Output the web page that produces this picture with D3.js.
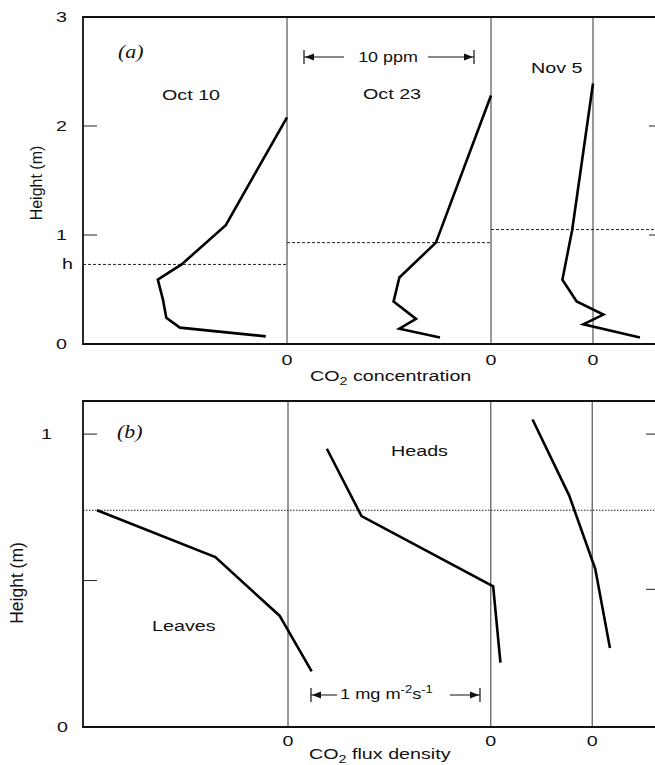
<!DOCTYPE html>
<html>
<head>
<meta charset="utf-8">
<script src="https://cdn.jsdelivr.net/npm/d3@7"></script>
<style>
  html, body { margin: 0; padding: 0; background: #fff; }
  svg text { font-family: "Liberation Sans", Arial, sans-serif; fill: #111; }
</style>
</head>
<body>
<div id="chart"></div>
<script>
// profile names, left to right
const dates = ["Oct 10", "Oct 23", "Nov 5"];
// where each profile's zero sits, in ppm (panel a) and mg m-2 s-1 (panel b)
const offsetsPpm = [0, 12, 18];
const offsetsFlux = [0, 1.2, 1.8];

// (a) CO2 concentration profiles, ppm relative to the top value
const concHeights = [
  [2.08, 1.09, 0.73, 0.59, 0.41, 0.24, 0.15, 0.07],
  [2.28, 0.93, 0.61, 0.39, 0.23, 0.14, 0.06],
  [2.39, 1.05, 0.59, 0.39, 0.27, 0.18, 0.06]
];
const concValues = [
  [0, -3.6, -6.2, -7.6, -7.3, -7.1, -6.3, -1.25],
  [0, -3.24, -5.39, -5.73, -4.41, -5.39, -3.0],
  [0, -1.22, -1.8, -0.96, 0.61, -0.57, 2.76]
];
const canopyHeights = [0.73, 0.93, 1.05];

// (b) CO2 flux density profiles, mg m-2 s-1
const fluxHeights = [
  [0.74, 0.58, 0.38, 0.19],
  [0.95, 0.72, 0.48, 0.22],
  [1.05, 0.79, 0.54, 0.27]
];
const fluxValues = [
  [-1.13, -0.43, -0.05, 0.14],
  [-0.97, -0.765, 0.014, 0.057],
  [-0.353, -0.136, 0.018, 0.105]
];
const fluxRefHeight = 0.74;
const fluxLabels = ["Leaves", "Heads"];

const heightTicksA = [0, 1, 2, 3];
const heightTicksB = [0, 1];
const minorTicksB = [0.5];
const rightTicksA = [1, 2];
const rightTicksB = [0.47, 1];

const W = 655, H = 765;
const SX = 1.36; // the scan is stretched sideways

const svg = d3.select("#chart").append("svg")
  .attr("width", W)
  .attr("height", H);

const left = 83, right = 657;

function label(x, y, str, size, anchor, sx) {
  return svg.append("text")
    .attr("transform", `translate(${x},${y}) scale(${sx || SX},1)`)
    .attr("text-anchor", anchor || "start")
    .style("font-size", size + "px")
    .text(str);
}

function co2Label(x, y, rest) {
  let t = svg.append("text")
    .attr("transform", `translate(${x},${y}) scale(${SX},1)`)
    .style("font-size", "14.5px");
  t.append("tspan").text("CO");
  t.append("tspan").attr("dy", 4).style("font-size", "10.5px").text("2");
  t.append("tspan").attr("dy", -4).text(" " + rest);
}

function arrowHead(x, y, dir) {
  svg.append("path")
    .attr("d", `M${x},${y} l${-dir * 9},-3.5 l0,7 z`)
    .attr("fill", "#111");
}

let line = d3.line()
  .x(d => d.x)
  .y(d => d.y);

// ---------- panel (a) ----------
let xA = d3.scaleLinear().domain([-12, 0]).range([left, 287]);
let yA = d3.scaleLinear().domain([0, 3]).range([344, 17]);

// zero lines
offsetsPpm.forEach(o => {
  svg.append("line")
    .attr("x1", xA(o)).attr("x2", xA(o))
    .attr("y1", yA(3)).attr("y2", yA(0))
    .attr("stroke", "#333").attr("stroke-width", 1);
});

// canopy height lines, each in the strip left of its zero line (last one runs to the edge)
canopyHeights.forEach((h, i) => {
  let x1 = i === 0 ? left : xA(offsetsPpm[i - 1]);
  let x2 = i < 2 ? xA(offsetsPpm[i]) : right;
  if (i === 2) x1 = xA(offsetsPpm[1]);
  svg.append("line")
    .attr("x1", x1).attr("x2", x2)
    .attr("y1", yA(h)).attr("y2", yA(h))
    .attr("stroke", "#222").attr("stroke-width", 1)
    .attr("stroke-dasharray", "3,2");
});

// frame
svg.append("path")
  .attr("d", `M${right},${yA(3)} H${left} V${yA(0)} H${right}`)
  .attr("fill", "none").attr("stroke", "#111").attr("stroke-width", 1.8);

heightTicksA.filter(t => t > 0 && t < 3).forEach(t => {
  svg.append("line").attr("x1", left).attr("x2", left + 14)
    .attr("y1", yA(t)).attr("y2", yA(t)).attr("stroke", "#222");
});
rightTicksA.forEach(t => {
  svg.append("line").attr("x1", right - 8).attr("x2", right)
    .attr("y1", yA(t)).attr("y2", yA(t)).attr("stroke", "#222");
});
heightTicksA.forEach(t => label(67, yA(t) + 5, String(t), 14.5, "end"));
label(73, yA(canopyHeights[0]) + 5, "h", 14.5, "end");

svg.append("text")
  .attr("transform", `translate(42,183) rotate(-90)`)
  .attr("text-anchor", "middle")
  .style("font-size", "16px")
  .text("Height (m)");

// profiles
concValues.forEach((vals, i) => {
  let pts = vals.map((v, j) => ({x: xA(offsetsPpm[i] + v), y: yA(concHeights[i][j])}));
  svg.append("path")
    .datum(pts)
    .attr("d", line)
    .attr("fill", "none")
    .attr("stroke", "#000")
    .attr("stroke-width", 2.6)
    .attr("stroke-linejoin", "miter");
});

label(162, 100, dates[0], 14.5);
label(363, 99, dates[1], 14.5);
label(531, 73, dates[2], 14.5);
svg.append("text")
  .attr("transform", `translate(118,58) scale(1.15,1)`)
  .style("font-family", "'Liberation Serif', 'Times New Roman', serif")
  .style("font-size", "19px")
  .style("font-style", "italic")
  .text("(a)");

// 10 ppm scale bar
let barA0 = xA(1), barA1 = xA(11), barAy = 57;
[barA0, barA1].forEach(x => svg.append("line").attr("x1", x).attr("x2", x)
  .attr("y1", barAy - 7).attr("y2", barAy + 7).attr("stroke", "#111").attr("stroke-width", 1.2));
svg.append("line").attr("x1", barA0).attr("x2", 344).attr("y1", barAy).attr("y2", barAy).attr("stroke", "#111");
svg.append("line").attr("x1", 428).attr("x2", barA1).attr("y1", barAy).attr("y2", barAy).attr("stroke", "#111");
arrowHead(barA0 + 1, barAy, -1);
arrowHead(barA1 - 1, barAy, 1);
label(388, 62, "10 ppm", 14, "middle", 1.28);

offsetsPpm.forEach(o => label(xA(o), 365, "0", 14.5, "middle"));
co2Label(310, 381, "concentration");

// ---------- panel (b) ----------
let xB = d3.scaleLinear().domain([-1.2, 0]).range([left + 2.2, 288]);
let yB = d3.scaleLinear().domain([0, 1.113]).range([727, 401]);

offsetsFlux.forEach(o => {
  svg.append("line")
    .attr("x1", xB(o)).attr("x2", xB(o))
    .attr("y1", yB(1.113)).attr("y2", yB(0))
    .attr("stroke", "#333").attr("stroke-width", 1);
});

svg.append("line")
  .attr("x1", left).attr("x2", right)
  .attr("y1", yB(fluxRefHeight)).attr("y2", yB(fluxRefHeight))
  .attr("stroke", "#222").attr("stroke-width", 1)
  .attr("stroke-dasharray", "1.5,1.5");

svg.append("path")
  .attr("d", `M${right},${yB(1.113)} H${left} V${yB(0)} H${right}`)
  .attr("fill", "none").attr("stroke", "#111").attr("stroke-width", 1.8);

heightTicksB.concat(minorTicksB).filter(t => t > 0).forEach(t => {
  svg.append("line").attr("x1", left).attr("x2", left + 14)
    .attr("y1", yB(t)).attr("y2", yB(t)).attr("stroke", "#222");
});
rightTicksB.forEach(t => {
  svg.append("line").attr("x1", right - 11).attr("x2", right)
    .attr("y1", yB(t)).attr("y2", yB(t)).attr("stroke", "#222");
});
heightTicksB.forEach(t => label(t === 1 ? 52 : 68, yB(t) + 5, String(t), 14.5, "end"));

svg.append("text")
  .attr("transform", `translate(23,583) rotate(-90)`)
  .attr("text-anchor", "middle")
  .style("font-size", "17.5px")
  .text("Height (m)");

fluxValues.forEach((vals, i) => {
  let pts = vals.map((v, j) => ({x: xB(offsetsFlux[i] + v), y: yB(fluxHeights[i][j])}));
  svg.append("path")
    .datum(pts)
    .attr("d", line)
    .attr("fill", "none")
    .attr("stroke", "#000")
    .attr("stroke-width", 2.6);
});

label(152, 631, fluxLabels[0], 14.5);
label(391, 456, fluxLabels[1], 14.5);
svg.append("text")
  .attr("transform", `translate(117,438) scale(1.15,1)`)
  .style("font-family", "'Liberation Serif', 'Times New Roman', serif")
  .style("font-size", "19px")
  .style("font-style", "italic")
  .text("(b)");

// 1 mg m-2 s-1 scale bar
let barB0 = xB(0.136), barB1 = xB(1.136), barBy = 695;
[barB0, barB1].forEach(x => svg.append("line").attr("x1", x).attr("x2", x)
  .attr("y1", barBy - 7).attr("y2", barBy + 7).attr("stroke", "#111").attr("stroke-width", 1.2));
svg.append("line").attr("x1", barB0).attr("x2", 337).attr("y1", barBy).attr("y2", barBy).attr("stroke", "#111");
svg.append("line").attr("x1", 450).attr("x2", barB1).attr("y1", barBy).attr("y2", barBy).attr("stroke", "#111");
arrowHead(barB0 + 1, barBy, -1);
arrowHead(barB1 - 1, barBy, 1);
let unit = svg.append("text")
  .attr("transform", `translate(340,699) scale(1.3,1)`)
  .style("font-size", "14px");
unit.append("tspan").text("1 mg m");
unit.append("tspan").attr("dy", -6).style("font-size", "10px").text("-2");
unit.append("tspan").attr("dy", 6).text("s");
unit.append("tspan").attr("dy", -6).style("font-size", "10px").text("-1");

offsetsFlux.forEach(o => label(xB(o), 746, "0", 14.5, "middle"));
co2Label(309, 759, "flux density");
</script>
</body>
</html>
